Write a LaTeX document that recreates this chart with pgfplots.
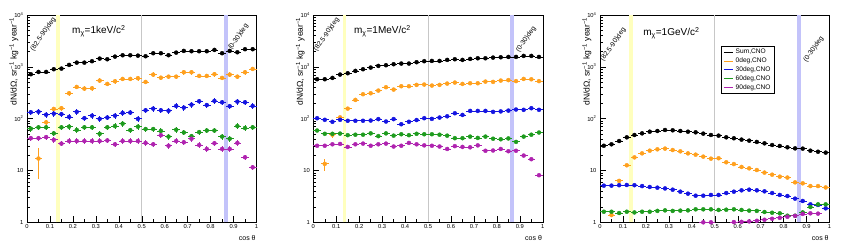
\documentclass[border=0pt]{standalone}
\usepackage{fontspec}
\setmainfont{Liberation Sans}
\usepackage{pgfplots}
\usepackage{pgfplotstable}
\pgfplotsset{compat=1.18}
\definecolor{orC}{RGB}{255,160,30}
\definecolor{blC}{RGB}{20,20,225}
\definecolor{grC}{RGB}{30,155,30}
\definecolor{mgC}{RGB}{175,35,175}
\definecolor{yelB}{RGB}{255,255,190}
\definecolor{lavB}{RGB}{195,195,250}

% columns: x, sum, 0deg, 30deg, 60deg, 90deg
\pgfplotstableread{
x s o b g m
0.016667 720 nan 133 64 42
0.050000 797 nan 136 68 42
0.083333 797 85 119 68 44
0.116667 899 154 125 52 39
0.150000 924 159 122 68 33
0.183333 1088 309 108 70 37
0.216667 1205 409 135 60.5 37
0.250000 1205 380 102 68 37
0.283333 1283 386 114 68 37
0.316667 1442 542 99 51 37
0.350000 1400 468 105 68 38
0.383333 1574 526 114 72 32
0.416667 1670 584 129 80 37
0.450000 1670 584 131 60 37
0.483333 1644 603 99 70 37
0.516667 1600 511 145 63 34
0.550000 1830 707 156 63 32
0.583333 1830 617 145 58 48
0.616667 1675 646 142 45 30
0.650000 1880 646 176 61 37
0.683333 2028 787 163 54 35
0.716667 2000 787 186 46 41
0.750000 2000 667 217 55 31
0.783333 2000 667 183 59 26
0.816667 2120 720 220 59 33.5
0.850000 1830 611 207 45 26
0.883333 2028 707 174 41 26
0.916667 1910 646 213 72 34
0.950000 2187 787 207 66 18
0.983333 2187 910 176 68 11.5
}\tabKeV

\pgfplotstableread{
x s o b g m
0.016667 576 nan 102 59 30
0.050000 576 nan 95 51 30
0.083333 611 nan 87 51 32
0.116667 709 106 95 51.5 32.5
0.150000 752 156 91 48 28.5
0.183333 834 230 91 49 32
0.216667 898 296 91 49 33
0.250000 967 309 92 52 30
0.283333 1042 348 98 46 32
0.316667 1073 404 88 52 33
0.350000 1122 364 98 47 29
0.383333 1156 422 78 50 30
0.416667 1156 422 87 48 34
0.450000 1227 448 94 51 32
0.483333 1284 455 102 50 30.5
0.516667 1300 435 99 50 30
0.550000 1300 448 105 49 29
0.583333 1360 475 111 47 26
0.616667 1400 497 127 42 29.5
0.650000 1360 468 118 42 28.5
0.683333 1420 482 141 45 28
0.716667 1462 482 141 42.5 30.5
0.750000 1462 519 141 45 24
0.783333 1507 512 135 41 24.3
0.816667 1530 543 138 40 26
0.850000 1553 554 143 41.5 23.5
0.883333 1553 530 150 35.6 24
0.916667 1624 584 148 45 19.4
0.950000 1624 575 159 49 16.5
0.983333 1553 530 148 54 8.1
}\tabMeV

\pgfplotstableread{
x s o b g m
0.016667 30 nan 5.1 1.6 nan
0.050000 32 1.38 5.1 1.6 nan
0.083333 37 6.3 5.2 1.51 nan
0.116667 43.6 12.6 5.25 1.6 nan
0.150000 48.4 17.9 5.2 1.55 nan
0.183333 52 21.4 5.0 1.6 nan
0.216667 56 24.1 4.8 1.6 nan
0.250000 57.8 25.6 4.66 1.66 nan
0.283333 60.4 26.4 4.5 1.7 nan
0.316667 59.6 24.8 4.26 1.66 nan
0.350000 57.8 23.4 3.9 1.68 nan
0.383333 56 21.4 3.57 1.7 nan
0.416667 54.5 20.2 3.26 1.78 nan
0.450000 51.4 18.5 3.26 1.78 1.0
0.483333 48.4 16.9 3.37 1.78 1.0
0.516667 47 17.2 3.37 1.73 nan
0.550000 43.6 14.4 3.67 1.75 nan
0.583333 41.8 13.3 3.9 1.78 1.01
0.616667 39.4 11.7 4.14 1.73 1.02
0.650000 37.6 11 4.26 1.68 1.04
0.683333 35.5 10.2 4.14 1.66 1.07
0.716667 33.4 9.1 3.96 1.58 1.12
0.750000 31 8.3 3.67 1.53 1.17
0.783333 29.7 7.6 3.37 1.49 1.22
0.816667 28 7.3 3.21 1.34 1.28
0.850000 26.7 5.9 2.86 1.34 1.33
0.883333 26.4 5.65 2.58 1.55 1.45
0.916667 24.1 5.0 2.22 1.97 1.49
0.950000 23 5.0 2.16 2.22 1.47
0.983333 22.1 4.7 1.86 2.22 nan
}\tabGeV

\pgfplotsset{
  every axis/.append style={
    width=229.5pt, height=207.3pt, scale only axis, clip=false,
    xmin=0, xmax=1, ymin=1, ymax=10000,
    xtick={0,0.1,0.2,0.3,0.4,0.5,0.6,0.7,0.8,0.9,1},
    xticklabels={0,0.1,0.2,0.3,0.4,0.5,0.6,0.7,0.8,0.9,1},
    minor x tick num=1,
    ytick={1,10,100,1000,10000},
    yticklabels={1,10,10\textsuperscript{2},10\textsuperscript{3},10\textsuperscript{4}},
    minor ytick={2,3,4,5,6,7,8,9,20,30,40,50,60,70,80,90,200,300,400,500,600,700,800,900,2000,3000,4000,5000,6000,7000,8000,9000},
    tick align=inside, xtick pos=left, ytick pos=left,
    major tick length=6pt, minor tick length=3pt,
    tick style={black, line width=0.4pt},
    axis line style={line width=0.5pt},
    tick label style={font=\fontsize{5.8}{6}\selectfont},
    xticklabel style={yshift=1pt},
  },
  herr/.style 2 args={forget plot, only marks, mark=none, color=#1,
    error bars/x dir=both, error bars/x fixed=0.0166667, error bars/y dir=both,
    error bars/y fixed relative=#2, error bars/error mark=none,
    error bars/error bar style={line width=0.8pt}},
  hexp/.style={forget plot, only marks, mark=none, color=#1,
    error bars/x dir=both, error bars/x fixed=0.0166667, error bars/y dir=both,
    error bars/y explicit, error bars/error mark=none,
    error bars/error bar style={line width=0.8pt}},
  legend image code/.code={\draw[#1] (0pt,0pt) -- (9.5pt,0pt);},
}

\newcommand{\bands}{%
  \draw[yelB, line width=3.5pt] (axis cs:0.135,1) -- (axis cs:0.135,10000);
  \draw[lavB, line width=3.8pt] (axis cs:0.866,1) -- (axis cs:0.866,10000);
  \draw[black!22, line width=0.6pt] (axis cs:0.5,1) -- (axis cs:0.5,10000);
}
\newcommand{\decor}[4]{%
  \node[rotate=55, anchor=base west, inner sep=0pt, font=\fontsize{6.8}{7}\selectfont] at (axis cs:#1) {(82.5-90)deg};
  \node[rotate=55, anchor=base west, inner sep=0pt, font=\fontsize{6.8}{7}\selectfont] at (axis cs:#2) {(0-30)deg};
  \node[anchor=west, font=\fontsize{10}{11}\selectfont, inner sep=0pt] at (axis cs:#3) {m\textsubscript{χ}=1#4/c\textsuperscript{2}};
  \node[rotate=90, anchor=south east, inner sep=0pt, font=\fontsize{8.5}{9}\selectfont] at (rel axis cs:-0.037,0.99) {dN/dΩ, sr\textsuperscript{−1} kg\textsuperscript{−1} year\textsuperscript{−1}};
  \node[anchor=north east, inner sep=0pt, font=\fontsize{7}{8}\selectfont] at (rel axis cs:0.997,-0.06) {cos θ};
}

\begin{document}
\begin{tikzpicture}
\useasboundingbox (0,0) rectangle (843pt,246pt);

% ---------- 1 keV ----------
\begin{semilogyaxis}[anchor=south west, at={(27pt,23.7pt)}]
\bands
\addplot[herr={black}{0.03}] table[x=x,y=s]{\tabKeV};
\addplot[herr={orC}{0.10}] table[x=x,y=o]{\tabKeV};
\addplot[hexp=orC] coordinates {(0.05,17) +- (0,10)};
\addplot[herr={blC}{0.12}] table[x=x,y=b]{\tabKeV};
\addplot[herr={grC}{0.12}] table[x=x,y=g]{\tabKeV};
\addplot[herr={mgC}{0.12}] table[x=x,y=m]{\tabKeV};
\decor{0.028,2000}{0.89,2100}{0.196,4900}{keV}
\end{semilogyaxis}

% ---------- 1 MeV ----------
\begin{semilogyaxis}[anchor=south west, at={(313.3pt,23.7pt)}]
\bands
\addplot[herr={black}{0.012}] table[x=x,y=s]{\tabMeV};
\addplot[herr={orC}{0.05}] table[x=x,y=o]{\tabMeV};
\addplot[hexp=orC] coordinates {(0.05,13.4) +- (0,3.5) (0.083333,49) +- (0,7)};
\addplot[herr={blC}{0.05}] table[x=x,y=b]{\tabMeV};
\addplot[herr={grC}{0.05}] table[x=x,y=g]{\tabMeV};
\addplot[herr={mgC}{0.05}] table[x=x,y=m]{\tabMeV};
\decor{0.015,1950}{0.896,1900}{0.177,4900}{MeV}
\end{semilogyaxis}

% ---------- 1 GeV ----------
\begin{semilogyaxis}[anchor=south west, at={(600pt,23.7pt)},
  legend style={at={(0.528,0.85)}, anchor=north west, draw=black, line width=0.4pt,
    font=\fontsize{6.6}{7}\selectfont, inner xsep=2pt, inner ysep=1pt,
    row sep=-1.5pt, cells={anchor=west}, fill=white}]
\bands
\addlegendimage{black, line width=0.8pt}\addlegendentry{Sum,CNO}
\addlegendimage{orC, line width=0.8pt}\addlegendentry{0deg,CNO}
\addlegendimage{blC, line width=0.8pt}\addlegendentry{30deg,CNO}
\addlegendimage{grC, line width=0.8pt}\addlegendentry{60deg,CNO}
\addlegendimage{mgC, line width=0.8pt}\addlegendentry{90deg,CNO}
\addplot[herr={black}{0.01}] table[x=x,y=s]{\tabGeV};
\addplot[herr={orC}{0.01}] table[x=x,y=o]{\tabGeV};
\addplot[herr={blC}{0.01}] table[x=x,y=b]{\tabGeV};
\addplot[herr={grC}{0.01}] table[x=x,y=g]{\tabGeV};
\addplot[herr={mgC}{0.01}] table[x=x,y=m]{\tabGeV};
\decor{0.0145,1250}{0.90,1200}{0.188,4500}{GeV}
\end{semilogyaxis}
\end{tikzpicture}
\end{document}
